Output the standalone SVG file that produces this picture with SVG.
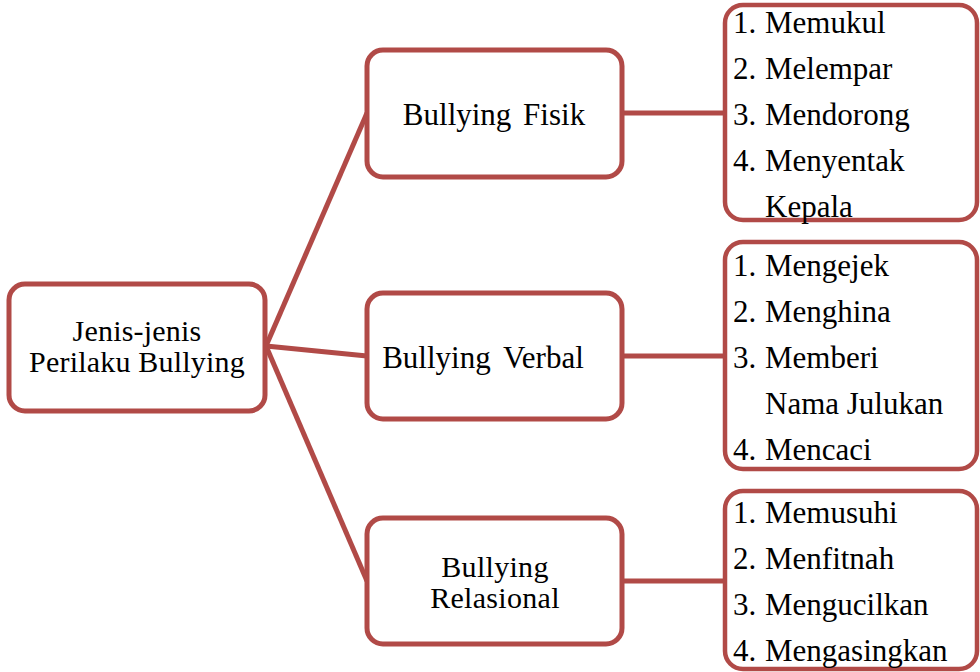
<svg xmlns="http://www.w3.org/2000/svg" width="980" height="672" viewBox="0 0 980 672">
<rect width="980" height="672" fill="#fff"/>
<g id="connectors" stroke="#b14a47" stroke-width="5" fill="none">
<line x1="266" y1="346" x2="367" y2="113"/>
<line x1="266" y1="346" x2="367" y2="356"/>
<line x1="266" y1="346" x2="367" y2="581"/>
<line x1="622" y1="113" x2="726" y2="113"/>
<line x1="622" y1="356" x2="726" y2="356"/>
<line x1="622" y1="581" x2="726" y2="581"/>
</g>
<g id="root">
<rect x="9" y="284" width="256" height="127" rx="16" fill="#fff" stroke="#b14a47" stroke-width="5"/>
<text x="137" y="341" text-anchor="middle" font-family="Liberation Serif" font-size="30" letter-spacing="0.2">Jenis-jenis</text>
<text x="137" y="372" text-anchor="middle" font-family="Liberation Serif" font-size="30" letter-spacing="0.2">Perilaku Bullying</text>
</g>
<g id="fisik">
<rect x="367" y="50" width="255" height="127" rx="16" fill="#fff" stroke="#b14a47" stroke-width="5"/>
<text x="494" y="125" text-anchor="middle" font-family="Liberation Serif" font-size="31" word-spacing="4">Bullying Fisik</text>
</g>
<g id="verbal">
<rect x="367" y="293" width="255" height="126" rx="16" fill="#fff" stroke="#b14a47" stroke-width="5"/>
<text x="483" y="368" text-anchor="middle" font-family="Liberation Serif" font-size="31" word-spacing="5">Bullying Verbal</text>
</g>
<g id="relasional">
<rect x="367" y="518" width="255" height="126" rx="16" fill="#fff" stroke="#b14a47" stroke-width="5"/>
<text x="495" y="577" text-anchor="middle" font-family="Liberation Serif" font-size="30" letter-spacing="0.3">Bullying</text>
<text x="495" y="608" text-anchor="middle" font-family="Liberation Serif" font-size="30" letter-spacing="0.3">Relasional</text>
</g>
<g id="list-fisik" font-family="Liberation Serif" font-size="31">
<rect x="725" y="5" width="252" height="215" rx="18" fill="#fff" stroke="#b14a47" stroke-width="4.5"/>
<text x="733" y="33" font-family="Liberation Serif">1.</text><text x="765" y="33" font-family="Liberation Serif">Memukul</text>
<text x="733" y="79" font-family="Liberation Serif">2.</text><text x="765" y="79" font-family="Liberation Serif">Melempar</text>
<text x="733" y="125" font-family="Liberation Serif">3.</text><text x="765" y="125" font-family="Liberation Serif">Mendorong</text>
<text x="733" y="171" font-family="Liberation Serif">4.</text><text x="765" y="171" font-family="Liberation Serif">Menyentak</text>
<text x="765" y="217" font-family="Liberation Serif">Kepala</text>
</g>
<g id="list-verbal" font-family="Liberation Serif" font-size="31">
<rect x="725" y="242" width="252" height="227" rx="18" fill="#fff" stroke="#b14a47" stroke-width="4.5"/>
<text x="733" y="276" font-family="Liberation Serif">1.</text><text x="765" y="276" font-family="Liberation Serif">Mengejek</text>
<text x="733" y="322" font-family="Liberation Serif">2.</text><text x="765" y="322" font-family="Liberation Serif">Menghina</text>
<text x="733" y="368" font-family="Liberation Serif">3.</text><text x="765" y="368" font-family="Liberation Serif">Memberi</text>
<text x="765" y="414" font-family="Liberation Serif">Nama Julukan</text>
<text x="733" y="460" font-family="Liberation Serif">4.</text><text x="765" y="460" font-family="Liberation Serif">Mencaci</text>
</g>
<g id="list-relasional" font-family="Liberation Serif" font-size="31">
<rect x="725" y="491" width="252" height="178" rx="18" fill="#fff" stroke="#b14a47" stroke-width="4.5"/>
<text x="733" y="523" font-family="Liberation Serif">1.</text><text x="765" y="523" font-family="Liberation Serif">Memusuhi</text>
<text x="733" y="569" font-family="Liberation Serif">2.</text><text x="765" y="569" font-family="Liberation Serif">Menfitnah</text>
<text x="733" y="615" font-family="Liberation Serif">3.</text><text x="765" y="615" font-family="Liberation Serif">Mengucilkan</text>
<text x="733" y="661" font-family="Liberation Serif">4.</text><text x="765" y="661" font-family="Liberation Serif">Mengasingkan</text>
</g>
</svg>
